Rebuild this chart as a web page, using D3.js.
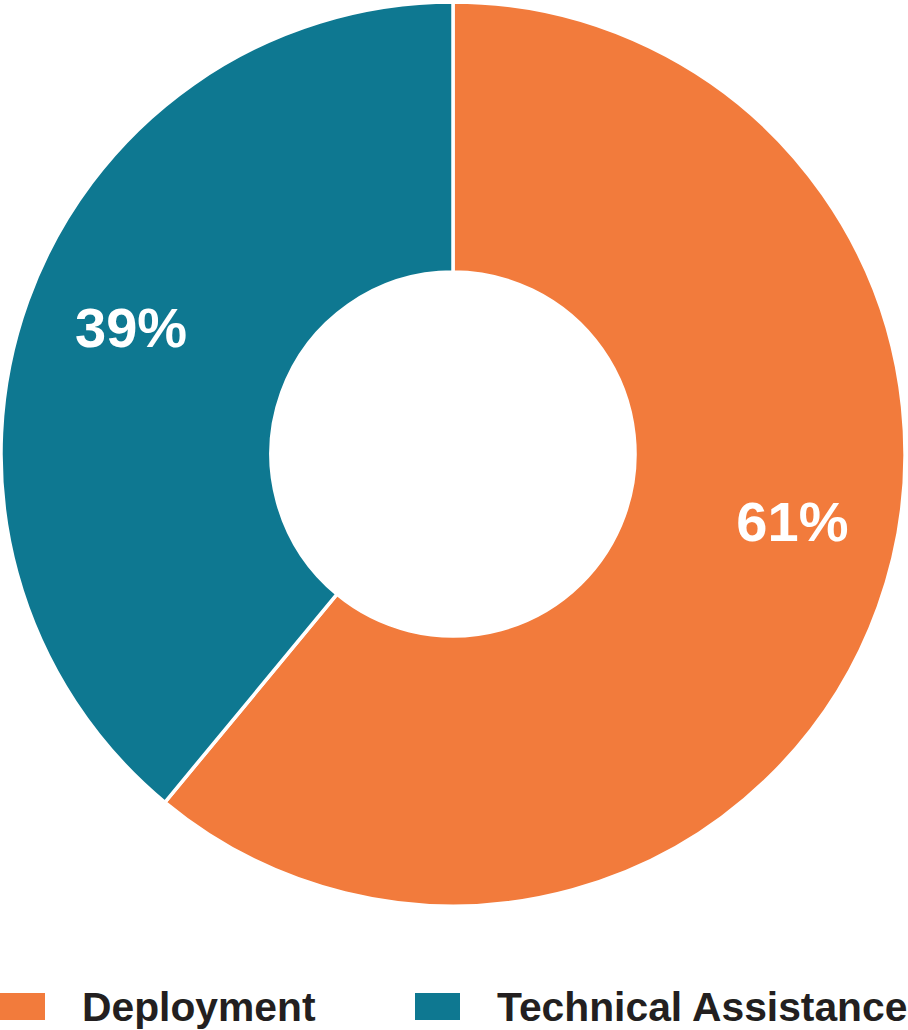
<!DOCTYPE html>
<html>
<head>
<meta charset="utf-8">
<script src="https://cdn.jsdelivr.net/npm/d3@7"></script>
<style>
  html, body { margin: 0; padding: 0; background: #fff; }
  #canvas { width: 908px; height: 1030px; }
  text { font-family: "Liberation Sans", Arial, sans-serif; font-weight: bold; }
</style>
</head>
<body>
<div id="canvas" class="canvas"></div>
<script>
// data
var categories = ['Deployment', 'Technical Assistance'];
var values = [61, 39];
var labels = ['61%', '39%'];
var colors = ['#f27b3c', '#0e7891'];

var W = 908, H = 1030;
var cx = 453, cy = 454;
var outerR = 452, innerR = 182;

var svg = d3.select('.canvas')
    .append('svg')
    .attr('width', W)
    .attr('height', H);

var plot = svg.append('g')
    .attr('transform', 'translate(' + cx + ',' + cy + ')');

var rows = categories.map(function(c, i){
    return {name: c, value: values[i], label: labels[i]};
});

var scaleColor = d3.scaleOrdinal()
    .domain(categories)
    .range(colors);

var pie = d3.pie()
    .sort(null)
    .value(function(d){ return d.value; });

var arc = d3.arc()
    .innerRadius(innerR)
    .outerRadius(outerR);

var arcs = pie(rows);

plot.selectAll('.slice')
    .data(arcs)
    .enter()
    .append('path')
    .attr('class', 'slice')
    .attr('d', arc)
    .attr('fill', function(d){ return scaleColor(d.data.name); })
    .attr('stroke', '#fff')
    .attr('stroke-width', 3.5);

// label nudge (radians), labels sit a bit off the slice middle in the original
var labelNudge = [-0.15, 0.03];
plot.selectAll('.pct')
    .data(arcs)
    .enter()
    .append('text')
    .attr('class', 'pct')
    .attr('transform', function(d, i){
        var a = (d.startAngle + d.endAngle) / 2 + labelNudge[i];
        var r = 346;
        return 'translate(' + (Math.sin(a) * r) + ',' + (-Math.cos(a) * r) + ')';
    })
    .attr('text-anchor', 'middle')
    .attr('dy', '0.36em')
    .attr('fill', '#fff')
    .style('font-size', '56px')
    .text(function(d){ return d.data.label; });

// legend
var legendX = d3.scalePoint()
    .domain(categories)
    .range([0, 415]);

var legend = svg.append('g')
    .attr('transform', 'translate(0,992)');

var item = legend.selectAll('.item')
    .data(categories)
    .enter()
    .append('g')
    .attr('class', 'item')
    .attr('transform', function(d){ return 'translate(' + legendX(d) + ',0)'; });

item.append('rect')
    .attr('x', 0)
    .attr('y', 1)
    .attr('width', 45)
    .attr('height', 27)
    .attr('fill', function(d){ return scaleColor(d); });

item.append('text')
    .attr('x', 82)
    .attr('y', 28.5)
    .attr('fill', '#231f20')
    .style('font-size', '40.8px')
    .text(function(d){ return d; });
</script>
</body>
</html>
